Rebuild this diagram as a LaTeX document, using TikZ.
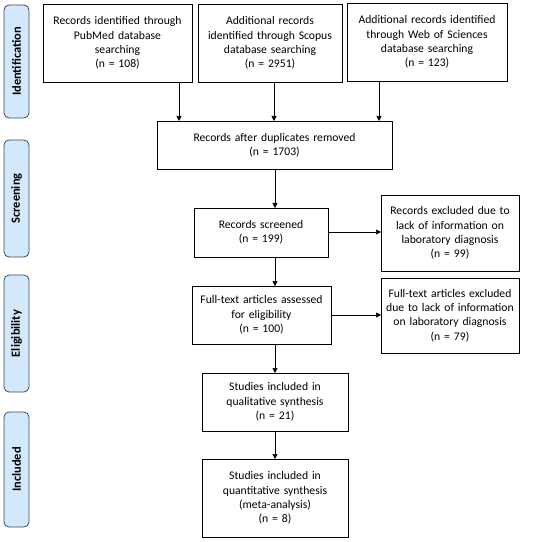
\documentclass[tikz,border=0pt]{standalone}
\usepackage{fontspec}
\setmainfont{Carlito}
\usetikzlibrary{arrows.meta}
\definecolor{sidefill}{HTML}{D3E9FB}
\definecolor{sidedraw}{HTML}{3F4A55}
\tikzset{
  box/.style={draw=black, line width=0.8pt, fill=white, align=center, inner sep=0pt,
    font=\fontsize{11.7}{14.4}\selectfont},
  side/.style={draw=sidedraw, line width=0.8pt, fill=sidefill, rounded corners=5bp},
  sidetext/.style={rotate=90, font=\fontsize{12.5}{14}\selectfont\bfseries},
  arr/.style={draw=black, line width=0.7pt, -{Triangle[length=5bp,width=5bp]}}
}
\newcommand{\boxat}[6]{% name, x1, y1, x2, y2, text
  \path[box] (#2,#3) rectangle (#4,#5);
  \node[box, draw=none, fill=none, text width=#4bp-#2bp] (#1) at ({(#2+#4)/2},{(#3+#5)/2}) {#6};
  \coordinate (#1-n) at ({(#2+#4)/2},#3);
  \coordinate (#1-s) at ({(#2+#4)/2},#5);
  \coordinate (#1-w) at (#2,{(#3+#5)/2});
  \coordinate (#1-e) at (#4,{(#3+#5)/2});
}
\newcommand{\sidebox}[4]{% name, y1, y2, text
  \path[side] (4,#2) rectangle (29,#3);
  \node[sidetext] (#1) at (16.5,{(#2+#3)/2}) {#4};
}
\begin{document}
\begin{tikzpicture}[x=1bp,y=-1bp]
\useasboundingbox (0,0) rectangle (550,542);
\fill[white] (0,0) rectangle (550,542);

\sidebox{sid}{5}{118}{Identification}
\sidebox{sscr}{140}{257}{Screening}
\sidebox{selig}{275}{392}{Eligibility}
\sidebox{sincl}{412}{527}{Included}

\boxat{pub}{43}{4}{192}{82}{Records identified through\\PubMed database\\searching\\(n = 108)}
\boxat{sco}{198}{4}{342}{82}{Additional records\\identified through Scopus\\database searching\\(n = 2951)}
\boxat{wos}{347}{3}{507}{81}{Additional records identified\\through Web of Sciences\\database searching\\(n = 123)}
\boxat{dup}{157}{121}{392}{169}{Records after duplicates removed\\(n = 1703)}
\boxat{scr}{194}{208}{328}{257}{Records screened\\(n = 199)}
\boxat{exa}{381}{195}{519}{271}{Records excluded due to\\lack of information on\\laboratory diagnosis\\(n = 99)}
\boxat{ft}{192}{286}{331}{344}{Full-text articles assessed\\for eligibility\\(n = 100)}
\boxat{exb}{381}{278}{519}{353}{Full-text articles excluded\\due to lack of information\\on laboratory diagnosis\\(n = 79)}
\boxat{qual}{202}{373}{348}{431}{Studies included in\\qualitative synthesis\\(n = 21)}
\boxat{quan}{202}{459}{348}{537}{Studies included in\\quantitative synthesis\\(meta-analysis)\\(n = 8)}

\coordinate (a1) at (179,82);
\coordinate (a1e) at (179,121);
\coordinate (a2) at (274,82);
\coordinate (a2e) at (274,121);
\coordinate (a3) at (379,81);
\coordinate (a3e) at (379,121);
\draw[arr] (a1) -- (a1e);
\draw[arr] (a2) -- (a2e);
\draw[arr] (a3) -- (a3e);
\coordinate (d1) at (275,169);
\coordinate (d1e) at (275,208);
\draw[arr] (d1) -- (d1e);
\coordinate (s1) at (328,232);
\coordinate (s1e) at (381,232);
\draw[arr] (s1) -- (s1e);
\coordinate (s2) at (275,257);
\coordinate (s2e) at (275,286);
\draw[arr] (s2) -- (s2e);
\coordinate (f1) at (331,315);
\coordinate (f1e) at (381,315);
\draw[arr] (f1) -- (f1e);
\coordinate (f2) at (275,344);
\coordinate (f2e) at (275,373);
\draw[arr] (f2) -- (f2e);
\coordinate (q1) at (275,431);
\coordinate (q1e) at (275,459);
\draw[arr] (q1) -- (q1e);
\end{tikzpicture}
\end{document}
